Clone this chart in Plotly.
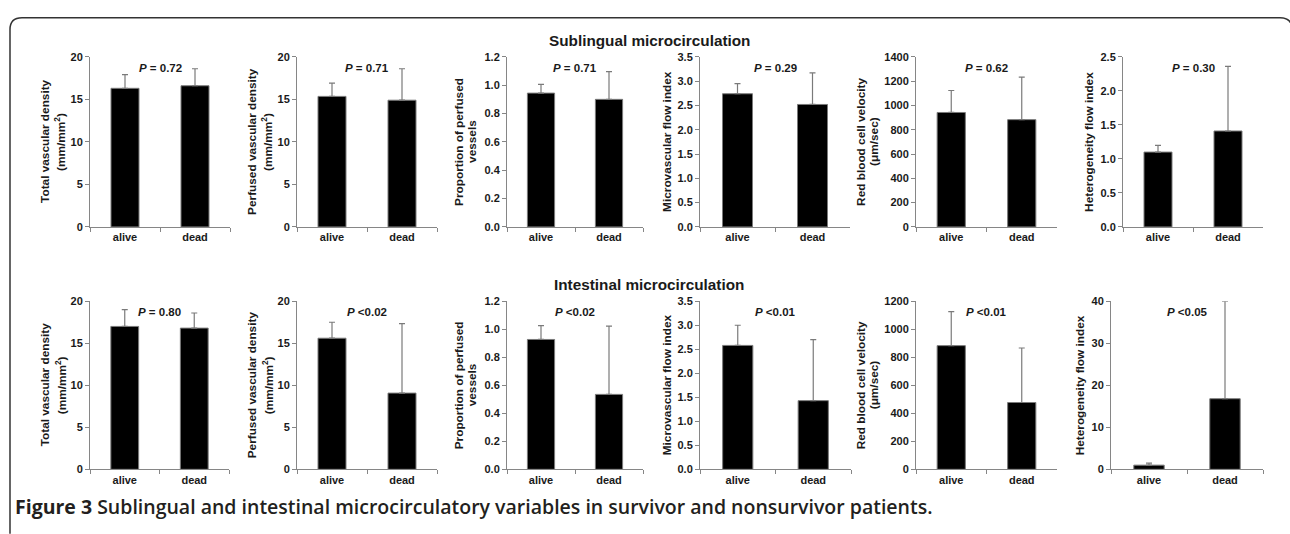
import plotly.graph_objects as go

W, H = 1290, 534

categories = ["alive", "dead"]

# y-axis titles, one entry per text line
y_titles = [
    ["Total vascular density", "(mm/mm<sup>2</sup>)"],
    ["Perfused vascular density", "(mm/mm<sup>2</sup>)"],
    ["Proportion of perfused", "vessels"],
    ["Microvascular flow index"],
    ["Red blood cell velocity", "(μm/sec)"],
    ["Heterogeneity flow index"],
]

# Sublingual (top row)
sub_means = [[16.3, 16.6], [15.35, 14.9], [0.944, 0.90], [2.74, 2.52], [942, 883], [1.10, 1.41]]
sub_sd = [[1.6, 2.0], [1.55, 3.7], [0.062, 0.196], [0.21, 0.65], [181, 350], [0.10, 0.95]]
sub_p = ["<b><i>P</i> = 0.72</b>", "<b><i>P</i> = 0.71</b>", "<b><i>P</i> = 0.71</b>",
         "<b><i>P</i> = 0.29</b>", "<b><i>P</i> = 0.62</b>", "<b><i>P</i> = 0.30</b>"]
sub_ymax = [20, 20, 1.2, 3.5, 1400, 2.5]
sub_dtick = [5, 5, 0.2, 0.5, 200, 0.5]

# Intestinal (bottom row)
int_means = [[17.0, 16.8], [15.6, 9.07], [0.927, 0.535], [2.58, 1.43], [883, 477], [1.0, 16.8]]
int_sd = [[2.0, 1.8], [1.9, 8.26], [0.099, 0.487], [0.42, 1.27], [243, 389], [0.5, 23.2]]
int_p = ["<b><i>P</i> = 0.80</b>", "<b><i>P</i> &lt;0.02</b>", "<b><i>P</i> &lt;0.02</b>",
         "<b><i>P</i> &lt;0.01</b>", "<b><i>P</i> &lt;0.01</b>", "<b><i>P</i> &lt;0.05</b>"]
int_ymax = [20, 20, 1.2, 3.5, 1200, 40]
int_dtick = [5, 5, 0.2, 0.5, 200, 10]

tickfmt = ["", "", ".1f", ".1f", "", ".1f"]
tickfmt_int = ["", "", ".1f", ".1f", "", ""]

# layout geometry (pixels)
top_x = [(90, 230), (297, 437), (507, 643), (700, 850), (916, 1057), (1123, 1263)]
bot_x = [(90, 229), (297, 437), (507, 643), (700, 851), (916, 1057), (1111, 1263)]
top_y = (52, 226)
bot_y = (302, 474)
# horizontal offsets (px, from the y axis) of each y-title line
top_title_off = [[-45, -29], [-45, -29], [-48, -35], [-33], [-55, -42], [-34]]
bot_title_off = [[-45, -29], [-45, -29], [-48, -35], [-33], [-55, -42], [-31]]

FONT = "Liberation Sans, Arial, sans-serif"
GRAY = "#868686"
TXT = "#1a1a1a"

fig = go.Figure()
layout = dict(
    width=W, height=H,
    margin=dict(l=0, r=0, t=0, b=0),
    paper_bgcolor="white", plot_bgcolor="white",
    showlegend=False, bargap=0.6,
    font=dict(family=FONT, color=TXT, size=11),
)
annotations = []


def add_row(row_idx, means, sds, ptexts, ymaxs, dticks, fmts, xs, ys, offs):
    for i in range(6):
        n = row_idx * 6 + i + 1
        sfx = "" if n == 1 else str(n)
        fig.add_trace(go.Bar(
            x=categories, y=means[i],
            marker=dict(color="black", line=dict(color="#7a7a7a", width=1)),
            error_y=dict(type="data", symmetric=False, array=sds[i],
                         arrayminus=[0, 0], color="#7a7a7a", thickness=1.2, width=3),
            xaxis="x" + sfx, yaxis="y" + sfx, hoverinfo="skip",
        ))
        x0, x1 = xs[i]
        layout["xaxis" + sfx] = dict(
            domain=[x0 / W, x1 / W], anchor="y" + sfx,
            showline=True, linecolor=GRAY, linewidth=1,
            ticks="outside", tickson="boundaries", ticklen=4, tickcolor=GRAY,
            tickfont=dict(family=FONT, size=11, color=TXT, weight="bold"),
            showgrid=False, zeroline=False, fixedrange=True,
        )
        layout["yaxis" + sfx] = dict(
            domain=[1 - ys[1] / H, 1 - ys[0] / H], anchor="x" + sfx,
            range=[0, ymaxs[i]], dtick=dticks[i], tick0=0,
            tickformat=fmts[i],
            showline=True, linecolor=GRAY, linewidth=1,
            ticks="outside", ticklen=4, tickcolor=GRAY,
            tickfont=dict(family=FONT, size=11, color=TXT, weight="bold"),
            showgrid=False, zeroline=False, fixedrange=True,
        )
        annotations.append(dict(
            text=ptexts[i], xref="x" + sfx + " domain", yref="y" + sfx + " domain",
            x=0.5, y=0.935, xanchor="center", yanchor="middle", showarrow=False,
            font=dict(family=FONT, size=11.5, color=TXT),
        ))
        for line, off in zip(y_titles[i], offs[i]):
            annotations.append(dict(
                text="<b>" + line + "</b>", textangle=-90,
                xref="x" + sfx + " domain", yref="y" + sfx + " domain",
                x=0, y=0.5, xshift=off, xanchor="center", yanchor="middle",
                showarrow=False, font=dict(family=FONT, size=11.8, color=TXT),
            ))


add_row(0, sub_means, sub_sd, sub_p, sub_ymax, sub_dtick, tickfmt, top_x, top_y, top_title_off)
add_row(1, int_means, int_sd, int_p, int_ymax, int_dtick, tickfmt_int, bot_x, bot_y, bot_title_off)

annotations.append(dict(text="<b>Sublingual microcirculation</b>", xref="paper", yref="paper",
                        x=649 / W, y=1 - 35 / H, xanchor="center", yanchor="middle",
                        showarrow=False, font=dict(family=FONT, size=15.3, color=TXT)))
annotations.append(dict(text="<b>Intestinal microcirculation</b>", xref="paper", yref="paper",
                        x=649 / W, y=1 - 285 / H, xanchor="center", yanchor="middle",
                        showarrow=False, font=dict(family=FONT, size=15.3, color=TXT)))
annotations.append(dict(
    text="<b>Figure 3</b> Sublingual and intestinal microcirculatory variables in survivor and nonsurvivor patients.",
    xref="paper", yref="paper", x=13 / W, y=1 - 512 / H, xanchor="left", yanchor="middle",
    showarrow=False, font=dict(family="Open Sans, sans-serif", size=19.5, color="#231f20", weight=600)))

layout["annotations"] = annotations

# figure frame (rounded border, open at the bottom)
def px(x, y):
    return f"{x / W:.5f},{1 - y / H:.5f}"

path = ("M " + px(10, 540) + " L " + px(10, 24) + " Q " + px(10, 12) + " " + px(22, 12)
        + " L " + px(1280, 12) + " Q " + px(1292, 12) + " " + px(1292, 24) + " L " + px(1292, 540))
layout["shapes"] = [dict(type="path", path=path, xref="paper", yref="paper",
                         line=dict(color="#333333", width=1.5))]

fig.update_layout(**layout)
fig.write_html(
    "out.html",
    config={"displayModeBar": False, "staticPlot": True},
    post_script="document.body.style.margin='0';document.body.style.padding='0';"
                "document.body.style.overflow='hidden';",
)
